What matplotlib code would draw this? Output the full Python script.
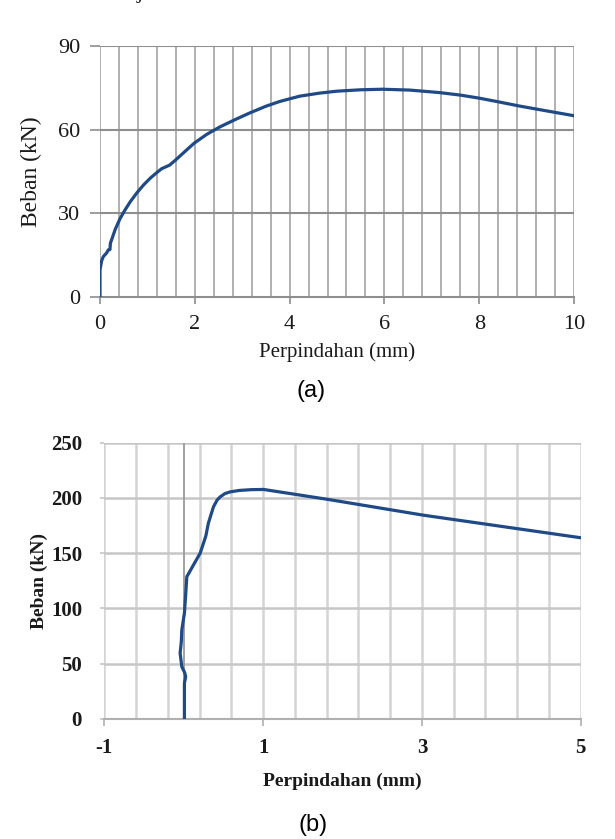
import matplotlib
matplotlib.use("Agg")
import matplotlib.pyplot as plt
import numpy as np

plt.rcParams["axes.unicode_minus"] = False

# ---- data (a) ----
disp_a = [0, 0, 0.035, 0.07, 0.14, 0.175, 0.21, 0.22, 0.32, 0.42, 0.52, 0.64,
          0.78, 0.92, 1.06, 1.19, 1.3, 1.47, 1.6, 1.8, 1.99, 2.25, 2.53, 2.85,
          3.16, 3.5, 3.79, 4.21, 4.63, 5.0, 5.5, 5.96, 6.53, 7.16, 7.6, 8.0,
          8.4, 8.84, 9.4, 10.0]
load_a = [0, 9.7, 13.0, 14.5, 15.8, 16.9, 17.0, 19.3, 24.2, 28.0, 31.0, 34.2,
          37.4, 40.2, 42.6, 44.5, 46.0, 47.3, 49.2, 52.3, 55.2, 58.3, 61.0, 63.6,
          66.0, 68.4, 70.1, 72.0, 73.1, 73.8, 74.3, 74.5, 74.2, 73.3, 72.4, 71.3,
          70.0, 68.5, 66.8, 65.0]
xticks_a = [0, 2, 4, 6, 8, 10]
yticks_a = [0, 30, 60, 90]

# ---- data (b) ----
disp_b = [0.009, 0.009, 0.025, 0.012, -0.024, -0.045, -0.03, -0.024, 0.009,
          0.026, 0.039, 0.12, 0.207, 0.249, 0.28, 0.31, 0.34, 0.375, 0.42,
          0.459, 0.52, 0.585, 0.7, 0.85, 1.005, 1.34, 1.825, 3.02, 5.0]
load_b = [0, 32.5, 38.3, 42.0, 47.3, 59.6, 70.0, 80.5, 95.8,
          113.6, 128.7, 139.0, 150, 159, 166, 177, 184, 192, 198,
          201, 204, 205.5, 206.8, 207.5, 207.7, 204, 198.6, 184.4, 164]
xticks_b = [-1, 1, 3, 5]
yticks_b = [0, 50, 100, 150, 200, 250]

xlabel = "Perpindahan (mm)"
ylabel = "Beban (kN)"
captions = ["(a)", "(b)"]

W, H = 615, 839
fig = plt.figure(figsize=(W / 100, H / 100), dpi=100)
fig.patch.set_facecolor("white")

serif = ["Liberation Serif", "DejaVu Serif"]
sans = ["Liberation Sans", "DejaVu Sans"]
line_col = "#1f4a86"
txt_col = "#1a1a1a"

def px_axes(l, t, r, b):
    return fig.add_axes([l / W, 1 - b / H, (r - l) / W, (b - t) / H])

# stray glyph from text above the figure (cut off in the reference too)
fig.text(137 / W, 1 + 2 / H, "j", fontsize=16, family=serif, color=txt_col,
         ha="left", va="baseline")

# ================= (a) =================
ax = px_axes(100, 46, 574, 297)
ax.plot(disp_a, load_a, color=line_col, lw=2.3, solid_joinstyle="round",
        solid_capstyle="round", zorder=3)
ax.set_xlim(0, 10)
ax.set_ylim(0, 90)
for xv in np.arange(0, 10.001, 0.4):
    ax.axvline(xv, color="#b0b0b0", lw=1.4, zorder=1)
for yv in yticks_a[1:]:
    ax.axhline(yv, color="#8e8e8e", lw=1.5, zorder=1.5)
for s in ["top", "right", "left"]:
    ax.spines[s].set_visible(False)
ax.spines["bottom"].set_color("#8e8e8e")
ax.spines["bottom"].set_linewidth(1.5)
ax.set_xticks(xticks_a)
ax.set_yticks(yticks_a)
ax.tick_params(axis="x", length=5, width=1.2, color="#8e8e8e", pad=8,
               labelsize=16, labelcolor=txt_col)
ax.tick_params(axis="y", length=7, width=1.2, color="#8e8e8e", pad=7,
               labelsize=16, labelcolor=txt_col)
for lab in ax.get_xticklabels() + ax.get_yticklabels():
    lab.set_family(serif)
ax.set_xlabel(xlabel, family=serif, fontsize=15, color=txt_col, labelpad=6)
ax.set_ylabel(ylabel, family=serif, fontsize=17, color=txt_col, labelpad=12)
fig.text(311 / W, 1 - 391 / H, captions[0], family=sans, fontsize=17,
         color="black", ha="center", va="center")

# ================= (b) =================
bx = px_axes(104.3, 442.7, 580.7, 719)
bx.plot(disp_b, load_b, color=line_col, lw=2.3, solid_joinstyle="round",
        solid_capstyle="round", zorder=3)
bx.set_xlim(-1, 5)
bx.set_ylim(0, 250)
for xv in np.arange(-1, 5.001, 0.4):
    bx.axvline(xv, color="#d4d4d4", lw=1.8, zorder=1)
for yv in yticks_b[1:]:
    bx.axhline(yv, color="#c6c6c6", lw=1.8, zorder=1.5)
bx.axvline(0, color="#9a9a9a", lw=1.3, zorder=2)
for s in ["top", "right", "left"]:
    bx.spines[s].set_visible(False)
bx.spines["bottom"].set_color("#b0b0b0")
bx.spines["bottom"].set_linewidth(1.5)
bx.set_xticks(xticks_b)
bx.set_yticks(yticks_b)
bx.tick_params(axis="x", length=5, width=1.2, color="#b0b0b0", pad=9,
               labelsize=15, labelcolor=txt_col)
bx.tick_params(axis="y", length=3, width=1.2, color="#c6c6c6", pad=13,
               labelsize=15, labelcolor=txt_col)
for lab in bx.get_xticklabels() + bx.get_yticklabels():
    lab.set_family(serif)
    lab.set_fontweight("bold")
bx.set_xlabel(xlabel, family=serif, fontsize=14, fontweight="bold",
              color=txt_col, labelpad=10)
bx.set_ylabel(ylabel, family=serif, fontsize=14, fontweight="bold",
              color=txt_col, labelpad=2)
fig.text(313 / W, 1 - 825 / H, captions[1], family=sans, fontsize=17,
         color="black", ha="center", va="center")

fig.savefig("out.png", dpi=100, facecolor="white")
